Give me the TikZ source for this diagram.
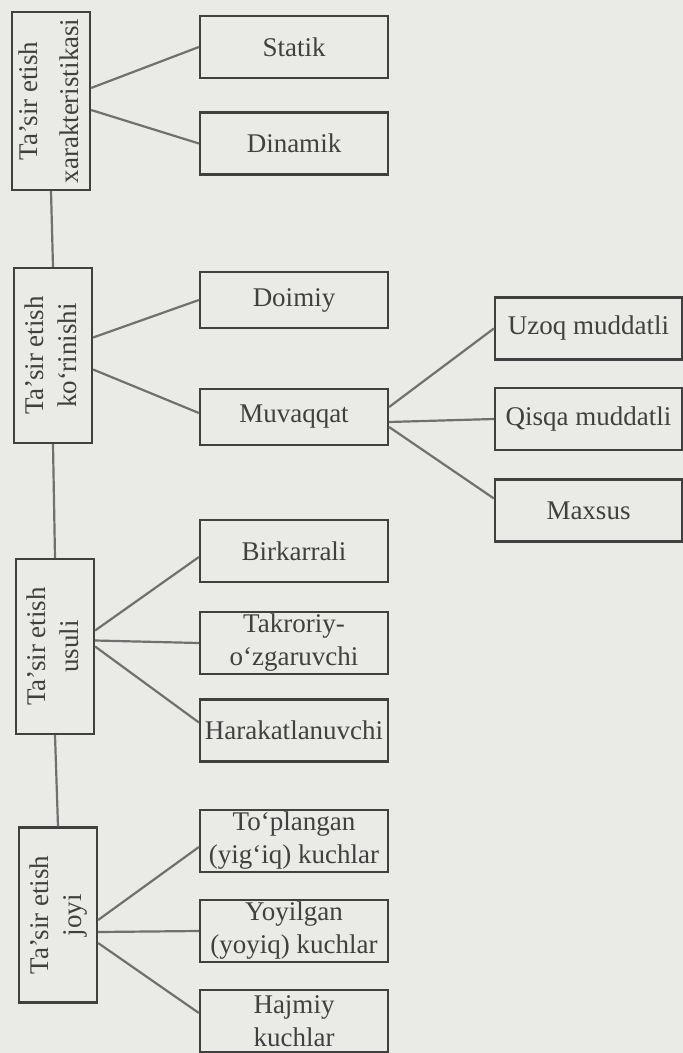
\documentclass[tikz,border=0pt]{standalone}
\usepackage{fontspec}
\setmainfont{Liberation Serif}
\usepackage{xcolor}
\usepackage{tikz}

\definecolor{paper}{RGB}{234,234,231}
\definecolor{ink}{RGB}{64,64,64}
\definecolor{wire}{RGB}{112,112,112}

\begin{document}
\begin{tikzpicture}[x=0.5pt, y=-0.5pt,
    box/.style={rectangle, draw=ink, line width=1.1pt, text=ink, align=center,
        font=\fontsize{13.5}{16.5}\selectfont, inner sep=1pt, minimum width=94pt, minimum height=31pt},
    sidebox/.style={rectangle, draw=ink, line width=1.1pt, text=ink,
        font=\fontsize{13.5}{16.5}\selectfont, inner sep=1pt, minimum width=39pt, minimum height=87.5pt},
    link/.style={draw=wire, line width=1.1pt}]
    \fill[paper] (0,0) rectangle (683,1053);
    \useasboundingbox (0,0) rectangle (683,1053);

    % left column
    \node[sidebox, minimum height=89pt] (xarakter) at (51,101) {\rotatebox{90}{\begin{tabular}{@{}c@{}}Ta’sir etish\\[4pt]xarakteristikasi\end{tabular}}};
    \node[sidebox] (korinish) at (53,355.5) {\rotatebox{90}{\begin{tabular}{@{}c@{}}Ta’sir etish\\ko‘rinishi\end{tabular}}};
    \node[sidebox] (usul) at (55,646.5) {\rotatebox{90}{\begin{tabular}{@{}c@{}}Ta’sir etish\\usuli\end{tabular}}};
    \node[sidebox] (joy) at (58,915) {\rotatebox{90}{\begin{tabular}{@{}c@{}}Ta’sir etish\\joyi\end{tabular}}};

    % middle column
    \node[box] (statik) at (294,47) {Statik};
    \node[box, below of=statik, node distance=48.25pt] (dinamik) {Dinamik};
    \node[box, minimum height=28pt] (doimiy) at (294,300) {Doimiy};
    \node[box, minimum height=28pt] (muvaqqat) at (294,417) {Muvaqqat};
    \node[box] (birkarrali) at (294,551) {Birkarrali};
    \node[box, below of=birkarrali, node distance=46pt] (takroriy) {Takroriy-\\o‘zgaruvchi};
    \node[box, below of=takroriy, node distance=43.75pt] (harakat) {Harakatlanuvchi};
    \node[box] (toplangan) at (294,841) {To‘plangan\\(yig‘iq) kuchlar};
    \node[box, below of=toplangan, node distance=45pt] (yoyilgan) {Yoyilgan\\(yoyiq) kuchlar};
    \node[box, below of=yoyilgan, node distance=45pt] (hajmiy) {Hajmiy\\kuchlar};

    % right column
    \node[box, minimum width=93.5pt] (uzoq) at (588.5,328.5) {Uzoq muddatli};
    \node[box, minimum width=93.5pt, below of=uzoq, node distance=45.25pt] (qisqa) {Qisqa muddatli};
    \node[box, minimum width=93.5pt, below of=qisqa, node distance=45.75pt] (maxsus) {Maxsus};

    % trunk
    \draw[link] (xarakter.south) -- (korinish.north);
    \draw[link] (korinish.south) -- (usul.north);
    \draw[link] (usul.south) -- (joy.north);

    % branches
    \draw[link] ([yshift=6.5pt]xarakter.east) -- (statik.west);
    \draw[link] ([yshift=-4.5pt]xarakter.east) -- (dinamik.west);
    \draw[link] ([yshift=9pt]korinish.east) -- (doimiy.west);
    \draw[link] ([yshift=-7pt]korinish.east) -- ([yshift=2pt]muvaqqat.west);
    \draw[link] ([yshift=8pt]usul.east) -- ([yshift=-3pt]birkarrali.west);
    \draw[link] ([yshift=3pt]usul.east) -- (takroriy.west);
    \draw[link] (usul.east) -- ([yshift=4pt]harakat.west);
    \draw[link] ([yshift=-2.5pt]joy.east) -- ([yshift=-3pt]toplangan.west);
    \draw[link] ([yshift=-8.5pt]joy.east) -- (yoyilgan.west);
    \draw[link] ([yshift=-14pt]joy.east) -- ([yshift=4pt]hajmiy.west);
    \draw[link] ([yshift=5pt]muvaqqat.east) -- (uzoq.west);
    \draw[link] ([yshift=-2.5pt]muvaqqat.east) -- (qisqa.west);
    \draw[link] ([yshift=-5pt]muvaqqat.east) -- ([yshift=6pt]maxsus.west);
\end{tikzpicture}
\end{document}
